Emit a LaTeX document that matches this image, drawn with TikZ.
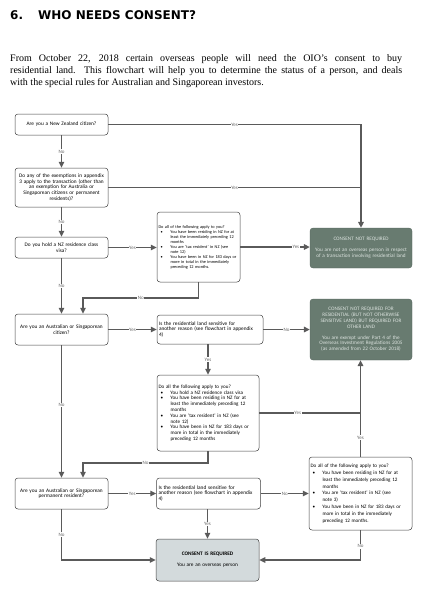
\documentclass[tikz,border=0pt]{standalone}
\usepackage{fontspec}
\setmainfont{Liberation Serif}
\newfontfamily\boxfont{Carlito}
\newfontfamily\headfont{DejaVu Sans}
\usetikzlibrary{arrows.meta}
\setlength{\parindent}{0pt}
\hyphenpenalty=10000
\exhyphenpenalty=10000
\definecolor{linegray}{HTML}{5A5A5A}
\definecolor{okgreen}{HTML}{687B70}
\definecolor{oktext}{HTML}{DDE4E0}
\definecolor{reqfill}{HTML}{D3DADC}
\newcommand{\bitem}[1]{\par\hangindent=12pt\hangafter=1\noindent\hbox to 12pt{\hskip2pt\textbullet\hfil}#1}
\begin{document}
\begin{tikzpicture}[x=1pt,y=-1pt,
    qbox/.style={draw=black!75, line width=0.5pt, rounded corners=3pt, fill=white,
      align=center, inner xsep=2pt, inner ysep=1pt, font=\boxfont\fontsize{5.3}{5.8}\selectfont},
    listbox/.style={qbox, align=left, inner xsep=1.5pt},
    okbox/.style={fill=okgreen, draw=okgreen!80!black, line width=0.3pt, rounded corners=3pt,
      text=oktext, align=center, inner sep=1pt, font=\boxfont\fontsize{5.2}{5.8}\selectfont},
    reqbox/.style={qbox, fill=reqfill},
    flow/.style={draw=linegray, line width=1.4pt},
    arr/.style={flow, -{Triangle[length=6pt,width=5.5pt]}},
    lbl/.style={fill=white, inner sep=0.6pt, text=black!60, font=\boxfont\fontsize{5}{5}\selectfont}]
  \useasboundingbox (0,0) rectangle (423,600);

  \node[anchor=base west, inner sep=0pt, font=\headfont\bfseries\fontsize{12}{14}\selectfont] (title) at (10,19)
    {6.\hspace{15pt}WHO NEEDS CONSENT?};
  \node[anchor=north west, inner sep=0pt, text width=392pt, align=justify, font=\fontsize{10}{12}\selectfont] (intro) at (10,54)
    {From October 22, 2018 certain overseas people will need the OIO’s consent to buy\linebreak
     residential land. This flowchart will help you to determine the status of a person, and deals\linebreak
     with the special rules for Australian and Singaporean investors.};

  \node[qbox, text width=89pt, minimum height=21pt] (nzcit) at (61.5,124.5) {Are you a New Zealand citizen?};
  \node[qbox, text width=89pt, minimum height=39pt] (exempt) at (61.5,187.5)
    {Do any of the exemptions in appendix\\ 3 apply to the transaction (other than\\ an exemption for Australia or\\
     Singaporean citizens or permanent\\ residents)?};
  \node[qbox, text width=89pt, minimum height=21pt] (visa) at (61.5,247.5) {Do you hold a NZ residence class\\ visa?};
  \node[listbox, text width=80pt, minimum height=70pt, font=\boxfont\fontsize{4.3}{5}\selectfont] (visatest) at (198.5,247)
    {Do all of the following apply to you?
     \bitem{You have been residing in NZ for at\newline least the immediately preceding 12\newline months}
     \bitem{You are ‘tax resident’ in NZ (see\newline note 12)}
     \bitem{You have been in NZ for 183 days or\newline more in total in the immediately\newline preceding 12 months.}\par};
  \node[okbox, text width=100pt, minimum height=40pt] (ok1) at (361,248)
    {CONSENT NOT REQUIRED\\[5pt] You are not an overseas person in respect\\ of a transaction involving residential land};

  \node[qbox, text width=89pt, minimum height=31pt] (aucit) at (61.5,329.5) {Are you an Australian or Singaporean\\ citizen?};
  \node[qbox, align=left, text width=102pt, minimum height=29pt] (sens1) at (210,329.5)
    {Is the residential land sensitive for\\ another reason (see flowchart in appendix\\ 4)};
  \node[okbox, text width=100pt, minimum height=61pt] (ok2) at (361,329.5)
    {CONSENT NOT REQUIRED FOR\\ RESIDENTIAL (BUT NOT OTHERWISE\\ SENSITIVE LAND) BUT REQUIRED FOR\\ OTHER LAND\\[5pt]
     You are exempt under Part 4 of the\\ Overseas Investment Regulations 2005\\ (as amended from 22 October 2018)};
  \node[listbox, text width=99pt, minimum height=76pt, font=\boxfont\fontsize{5.1}{5.8}\selectfont] (autest) at (208,413)
    {Do all the following apply to you?
     \bitem{You hold a NZ residence class visa}
     \bitem{You have been residing in NZ for at\newline least the immediately preceding 12\newline months}
     \bitem{You are ‘tax resident’ in NZ (see\newline note 12)}
     \bitem{You have been in NZ for 183 days or\newline more in total in the immediately\newline preceding 12 months}\par};

  \node[qbox, text width=89pt, minimum height=31pt] (aupr) at (61.5,493.5) {Are you an Australian or Singaporean\\ permanent resident?};
  \node[qbox, align=left, text width=100pt, minimum height=31pt] (sens2) at (208.5,493.5)
    {Is the residential land sensitive for\\ another reason (see flowchart in appendix\\ 4)};
  \node[listbox, text width=100pt, minimum height=73pt, font=\boxfont\fontsize{5.1}{6.8}\selectfont] (prtest) at (360.5,493.5)
    {Do all of the following apply to you?
     \bitem{You have been residing in NZ for at\newline least the immediately preceding 12\newline months}
     \bitem{You are ‘tax resident’ in NZ (see\newline note 3)}
     \bitem{You have been in NZ for 183 days or\newline more in total in the immediately\newline preceding 12 months.}\par};
  \node[reqbox, text width=99pt, minimum height=42pt] (req) at (207.5,560)
    {\textbf{CONSENT IS REQUIRED}\\[5pt] You are an overseas person};

  \draw[arr] (nzcit) -- node[lbl]{No} (exempt);
  \draw[arr] (exempt) -- node[lbl]{No} (visa);
  \draw[arr] (nzcit.east) -| node[lbl,pos=0.25]{Yes} (ok1.north);
  \draw[flow] (exempt.east) -- node[lbl]{Yes} (exempt.east -| ok1.north);
  \draw[arr] (visa.east) -- node[lbl]{Yes} (visa.east -| visatest.west);
  \draw[arr] (visatest.east) -- node[lbl,pos=0.8]{Yes} (visatest.east -| ok1.west);
  \coordinate (j1) at (83,298);
  \draw[arr] (visatest.south) |- node[lbl,pos=0.75]{No} (j1) -- (j1 |- aucit.north);
  \draw[arr] (visa) -- node[lbl]{No} (aucit);

  \draw[arr] (aucit.east) -- node[lbl]{Yes} (aucit.east -| sens1.west);
  \draw[arr] (sens1.east) -- node[lbl]{No} (sens1.east -| ok2.west);
  \draw[arr] (autest.north |- sens1.south) -- node[lbl]{Yes} (autest.north);
  \coordinate (j2) at (prtest.north |- autest.east);
  \draw[flow] (autest.east) -- node[lbl,pos=0.38]{Yes} (j2);
  \draw[arr] (prtest.north) -- node[lbl,pos=0.2]{Yes} (prtest.north |- ok2.south);
  \coordinate (j3) at (83,463);
  \draw[arr] (autest.south) |- node[lbl,pos=0.75]{No} (j3) -- (j3 |- aupr.north);
  \draw[arr] (aucit) -- node[lbl,pos=0.45]{No} (aupr);

  \draw[arr] (aupr.east) -- node[lbl]{Yes} (aupr.east -| sens2.west);
  \draw[arr] (sens2.east) -- node[lbl]{No} (sens2.east -| prtest.west);
  \draw[arr] (req.north |- sens2.south) -- node[lbl]{Yes} (req.north);
  \draw[arr] (aupr.south) |- node[lbl,pos=0.25]{No} (req.west);
  \draw[arr] (prtest.south) |- node[lbl,pos=0.27]{No} (req.east);
\end{tikzpicture}
\end{document}
